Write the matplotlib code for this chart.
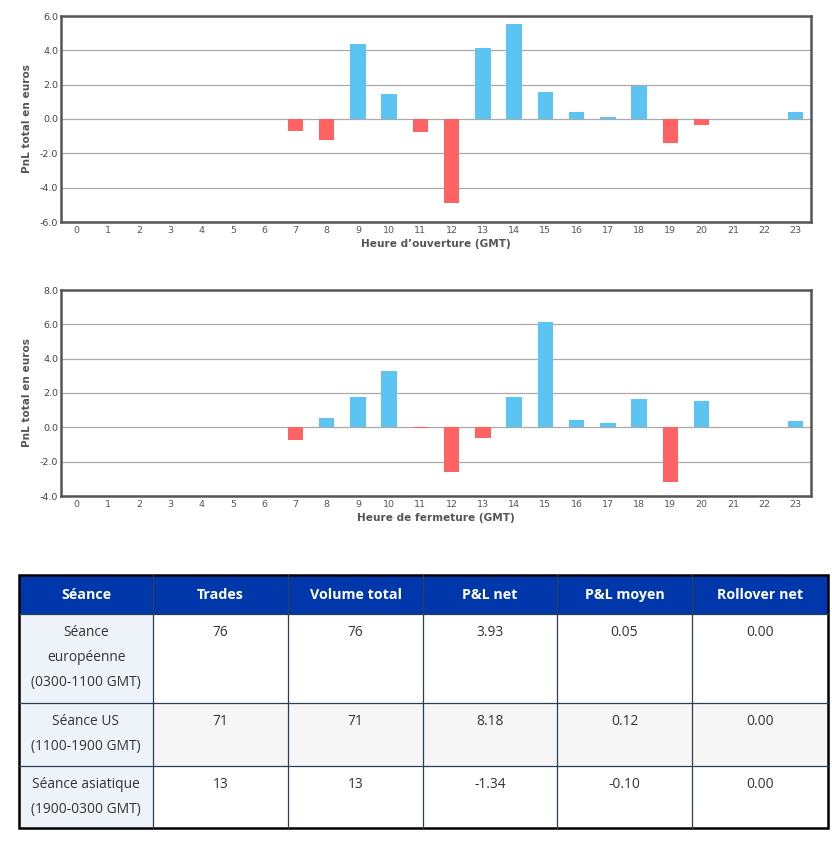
import numpy as np
import matplotlib
matplotlib.use("Agg")
import matplotlib.pyplot as plt
from matplotlib.patches import Rectangle

# données horaires (PnL total par heure GMT)
heures = list(range(24))
pnl_ouverture = [0, 0, 0, 0, 0, 0, 0, -0.71, -1.25, 4.39, 1.45, -0.73, -4.87, 4.14,
                 5.53, 1.56, 0.42, 0.10, 1.93, -1.37, -0.37, 0, 0, 0.39]
pnl_fermeture = [0, 0, 0, 0, 0, 0, 0, -0.72, 0.54, 1.77, 3.27, -0.06, -2.60, -0.60,
                 1.77, 6.15, 0.43, 0.25, 1.65, -3.20, 1.54, 0, 0, 0.37]

# tableau par séance
colonnes = ["Séance", "Trades", "Volume total", "P&L net", "P&L moyen", "Rollover net"]
seances = [["Séance", "européenne", "(0300-1100 GMT)"],
           ["Séance US", "(1100-1900 GMT)"],
           ["Séance asiatique", "(1900-0300 GMT)"]]
trades = [76, 71, 13]
volume = [76, 71, 13]
pnl_net = [3.93, 8.18, -1.34]
pnl_moyen = [0.05, 0.12, -0.10]
rollover = [0.00, 0.00, 0.00]

BLEU = "#5cc4f0"
ROUGE = "#ff6262"
W, H = 832, 859

fig = plt.figure(figsize=(W / 100, H / 100), dpi=100)


def bar_chart(top, bottom, valeurs, ylim, xlabel):
    ax = fig.add_axes([61 / W, 1 - bottom / H, 750 / W, (bottom - top) / H])
    couleurs = [BLEU if v >= 0 else ROUGE for v in valeurs]
    ax.bar(heures, valeurs, width=0.5, color=couleurs, linewidth=0, zorder=2)
    ax.set_xlim(-0.5, 23.5)
    ax.set_ylim(*ylim)
    ax.set_yticks(np.arange(ylim[0], ylim[1] + 0.1, 2.0))
    ax.set_yticklabels([f"{t:.1f}" for t in ax.get_yticks()])
    ax.set_xticks(heures)
    ax.grid(axis="y", color="#aaaaaa", linewidth=0.9, zorder=1)
    ax.tick_params(length=0, labelsize=6.8, labelcolor="#555555", pad=3)
    ax.tick_params(axis="y", pad=2, labelcolor="#444444")
    for s in ax.spines.values():
        s.set_color("#555555")
        s.set_linewidth(1.8)
    ax.set_ylabel("PnL total en euros", fontsize=7.6, fontweight="bold",
                  color="#555555", labelpad=6)
    ax.set_xlabel(xlabel, fontsize=7.6, fontweight="bold", color="#555555",
                  labelpad=3)
    return ax


bar_chart(16, 222, pnl_ouverture, (-6, 6), "Heure d’ouverture (GMT)")
bar_chart(290, 496, pnl_fermeture, (-4, 8), "Heure de fermeture (GMT)")

# tableau dessiné en coordonnées pixel
ax_t = fig.add_axes([0, 0, 1, 1], facecolor="none")
ax_t.set_xlim(0, W)
ax_t.set_ylim(H, 0)
ax_t.axis("off")

bords_x = [19, 153, 288, 423, 557, 692, 828]
bords_y = [575, 614, 703, 766, 828]
fond_lignes = ["white", "#f6f6f6", "white"]

# en-tête
for j, nom in enumerate(colonnes):
    x0, x1 = bords_x[j], bords_x[j + 1]
    ax_t.add_patch(Rectangle((x0, bords_y[0]), x1 - x0, bords_y[1] - bords_y[0],
                             facecolor="#0037aa", edgecolor="none"))
    ax_t.text((x0 + x1) / 2, (bords_y[0] + bords_y[1]) / 2 + 0.5, nom,
              ha="center", va="center", color="white", fontsize=10.3,
              fontweight="bold", family="Open Sans")

lignes = [[seances[i], [str(trades[i])], [str(volume[i])], [f"{pnl_net[i]:.2f}"],
           [f"{pnl_moyen[i]:.2f}"], [f"{rollover[i]:.2f}"]] for i in range(3)]

for i, ligne in enumerate(lignes):
    y0, y1 = bords_y[i + 1], bords_y[i + 2]
    for j, cell in enumerate(ligne):
        x0, x1 = bords_x[j], bords_x[j + 1]
        fond = "#eef3fa" if j == 0 else fond_lignes[i]
        ax_t.add_patch(Rectangle((x0, y0), x1 - x0, y1 - y0, facecolor=fond,
                                 edgecolor="none"))
        for k, txt in enumerate(cell):
            ax_t.text((x0 + x1) / 2, y0 + 18.5 + 25 * k, txt, ha="center",
                      va="center", color="#333333", fontsize=9.9,
                      family="Open Sans")

# traits intérieurs
for x in bords_x[1:-1]:
    ax_t.plot([x, x], [bords_y[0], bords_y[-1]], color="#2c3e50", lw=0.9)
for y in bords_y[1:-1]:
    ax_t.plot([bords_x[0], bords_x[-1]], [y, y], color="#2c3e50", lw=0.9)
ax_t.add_patch(Rectangle((bords_x[0], bords_y[0]), bords_x[-1] - bords_x[0],
                         bords_y[-1] - bords_y[0], facecolor="none",
                         edgecolor="black", lw=1.8))

fig.savefig("out.png", dpi=100)
